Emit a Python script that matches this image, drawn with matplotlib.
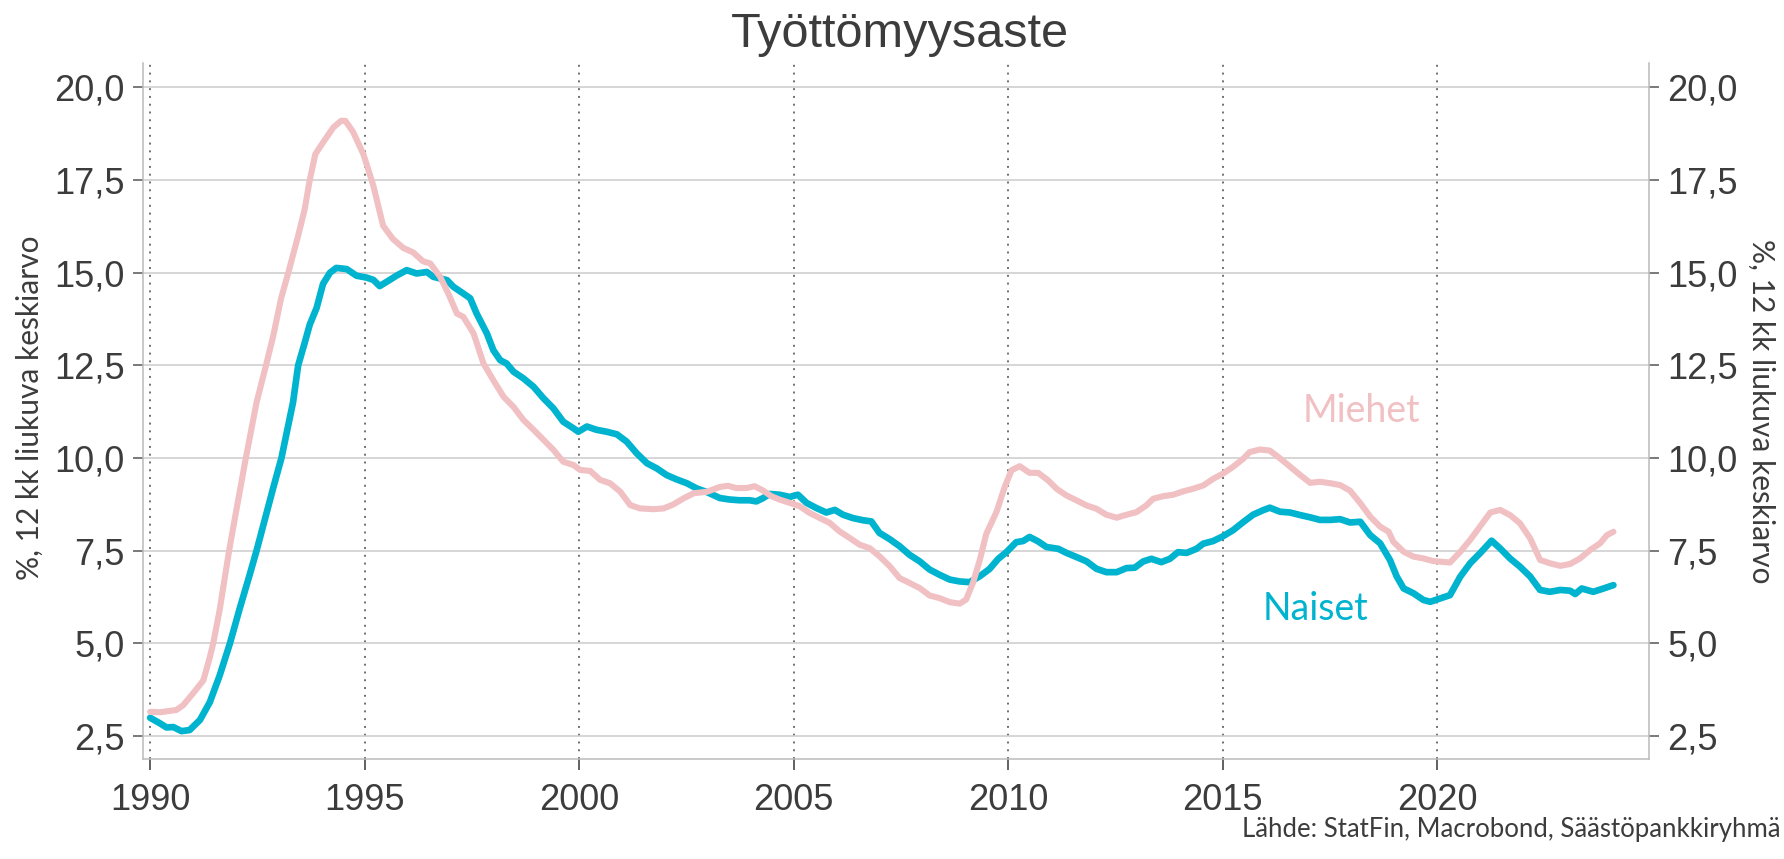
import matplotlib
matplotlib.use("Agg")
import matplotlib.pyplot as plt
from matplotlib.ticker import FixedLocator, FuncFormatter

# ---------------- data ----------------
title = "Työttömyysaste"
ylabel = "%, 12 kk liukuva keskiarvo"
source = "Lähde: StatFin, Macrobond, Säästöpankkiryhmä"
label_miehet = "Miehet"
label_naiset = "Naiset"

miehet_years = [
    1990.0, 1990.23, 1990.61, 1990.77, 1991.0, 1991.24, 1991.39, 1991.47, 1991.62, 1991.84,
    1992.01, 1992.23, 1992.48, 1992.7, 1992.87, 1993.05, 1993.22, 1993.45, 1993.6, 1993.72,
    1993.85, 1994.02, 1994.27, 1994.45, 1994.55, 1994.73, 1994.97, 1995.2, 1995.43, 1995.66,
    1995.9, 1996.13, 1996.36, 1996.53, 1996.76, 1996.95, 1997.15, 1997.3, 1997.54, 1997.77,
    1998.0, 1998.24, 1998.47, 1998.7, 1998.94, 1999.17, 1999.4, 1999.63, 1999.87, 2000.02,
    2000.26, 2000.49, 2000.72, 2000.96, 2001.19, 2001.42, 2001.73, 2001.97, 2002.2, 2002.43,
    2002.67, 2002.98, 2003.28, 2003.47, 2003.66, 2003.9, 2004.09, 2004.29, 2004.48, 2004.67,
    2004.91, 2005.14, 2005.37, 2005.61, 2005.84, 2006.07, 2006.31, 2006.54, 2006.77, 2007.0,
    2007.24, 2007.47, 2007.7, 2007.94, 2008.17, 2008.4, 2008.64, 2008.87, 2009.02, 2009.18,
    2009.34, 2009.49, 2009.73, 2009.92, 2010.08, 2010.27, 2010.5, 2010.7, 2010.93, 2011.13,
    2011.36, 2011.59, 2011.83, 2012.06, 2012.29, 2012.53, 2012.76, 2012.99, 2013.22, 2013.38,
    2013.61, 2013.85, 2014.08, 2014.31, 2014.55, 2014.78, 2015.01, 2015.24, 2015.48, 2015.63,
    2015.87, 2016.1, 2016.34, 2016.57, 2016.81, 2017.04, 2017.27, 2017.51, 2017.74, 2017.97,
    2018.21, 2018.44, 2018.67, 2018.87, 2018.98, 2019.22, 2019.45, 2019.68, 2019.91, 2020.11,
    2020.3, 2020.54, 2020.77, 2021.0, 2021.24, 2021.47, 2021.7, 2021.93, 2022.17, 2022.4,
    2022.63, 2022.87, 2023.1, 2023.33, 2023.57, 2023.8, 2023.96, 2024.11,
]
miehet = [
    3.15, 3.14, 3.2, 3.33, 3.65, 4.0, 4.62, 5.0, 5.9, 7.5,
    8.6, 10.0, 11.5, 12.5, 13.3, 14.3, 15.0, 16.0, 16.7, 17.5,
    18.2, 18.5, 18.92, 19.1, 19.1, 18.8, 18.2, 17.36, 16.27, 15.91,
    15.67, 15.55, 15.31, 15.25, 14.89, 14.44, 13.9, 13.81, 13.36, 12.55,
    12.1, 11.65, 11.38, 11.03, 10.76, 10.49, 10.22, 9.9, 9.81, 9.68,
    9.65, 9.41, 9.32, 9.09, 8.73, 8.64, 8.62, 8.64, 8.75, 8.91,
    9.05, 9.09, 9.22, 9.25, 9.19, 9.19, 9.24, 9.12, 8.97, 8.88,
    8.79, 8.7, 8.52, 8.38, 8.25, 8.02, 7.84, 7.66, 7.57, 7.35,
    7.08, 6.76, 6.63, 6.49, 6.29, 6.22, 6.11, 6.07, 6.18, 6.63,
    7.25, 7.95, 8.55, 9.22, 9.67, 9.78, 9.6, 9.6, 9.4, 9.17,
    8.99, 8.86, 8.72, 8.63, 8.47, 8.39, 8.47, 8.54, 8.72, 8.9,
    8.97, 9.01, 9.1, 9.17, 9.26, 9.44, 9.58, 9.76, 9.98, 10.16,
    10.23, 10.2, 9.99, 9.77, 9.54, 9.33, 9.36, 9.32, 9.27, 9.12,
    8.78, 8.42, 8.15, 8.01, 7.74, 7.47, 7.34, 7.29, 7.22, 7.2,
    7.18, 7.47, 7.79, 8.15, 8.53, 8.6, 8.46, 8.24, 7.83, 7.25,
    7.16, 7.09, 7.14, 7.29, 7.52, 7.7, 7.92, 8.01,
]

naiset_years = [
    1990.0, 1990.23, 1990.38, 1990.54, 1990.73, 1990.92, 1991.16, 1991.39, 1991.62, 1991.86,
    1992.09, 1992.32, 1992.48, 1992.63, 1992.87, 1993.06, 1993.33, 1993.45, 1993.6, 1993.72,
    1993.88, 1994.03, 1994.19, 1994.34, 1994.58, 1994.81, 1995.04, 1995.2, 1995.35, 1995.59,
    1995.74, 1995.98, 1996.21, 1996.45, 1996.6, 1996.92, 1997.07, 1997.3, 1997.46, 1997.61,
    1997.85, 1998.0, 1998.16, 1998.31, 1998.47, 1998.7, 1998.94, 1999.17, 1999.4, 1999.63,
    1999.87, 1999.98, 2000.18, 2000.41, 2000.64, 2000.88, 2001.11, 2001.34, 2001.58, 2001.81,
    2002.04, 2002.28, 2002.51, 2002.74, 2002.98, 2003.28, 2003.51, 2003.74, 2003.97, 2004.13,
    2004.29, 2004.44, 2004.67, 2004.91, 2005.1, 2005.3, 2005.53, 2005.76, 2005.96, 2006.15,
    2006.38, 2006.62, 2006.81, 2007.0, 2007.24, 2007.47, 2007.7, 2007.94, 2008.17, 2008.4,
    2008.64, 2008.87, 2009.1, 2009.34, 2009.57, 2009.77, 2009.96, 2010.19, 2010.35, 2010.5,
    2010.7, 2010.89, 2011.17, 2011.36, 2011.59, 2011.83, 2012.06, 2012.29, 2012.53, 2012.76,
    2012.95, 2013.15, 2013.34, 2013.57, 2013.77, 2013.96, 2014.16, 2014.39, 2014.55, 2014.78,
    2015.01, 2015.24, 2015.48, 2015.71, 2015.94, 2016.1, 2016.34, 2016.57, 2016.81, 2017.04,
    2017.27, 2017.51, 2017.74, 2017.97, 2018.21, 2018.44, 2018.67, 2018.9, 2019.06, 2019.22,
    2019.45, 2019.68, 2019.84, 2020.07, 2020.3, 2020.54, 2020.77, 2021.0, 2021.27, 2021.47,
    2021.7, 2021.93, 2022.17, 2022.4, 2022.63, 2022.87, 2023.1, 2023.22, 2023.37, 2023.64,
    2023.88, 2024.11,
]
naiset = [
    2.99, 2.84, 2.73, 2.74, 2.63, 2.66, 2.93, 3.41, 4.13, 5.0,
    5.95, 6.85, 7.5, 8.15, 9.2, 10.0, 11.5, 12.5, 13.1, 13.6,
    14.05, 14.7, 15.0, 15.13, 15.1, 14.92, 14.87, 14.81, 14.64, 14.81,
    14.92, 15.07, 14.98, 15.02, 14.89, 14.8, 14.62, 14.44, 14.31, 13.9,
    13.36, 12.91, 12.64, 12.55, 12.33, 12.15, 11.92, 11.61, 11.34, 10.98,
    10.8, 10.71, 10.85, 10.76, 10.71, 10.64, 10.44, 10.13, 9.86, 9.72,
    9.54, 9.42, 9.32, 9.18, 9.08, 8.92, 8.88, 8.86, 8.86, 8.83,
    8.92, 9.03, 9.01, 8.95, 9.01, 8.79, 8.65, 8.53, 8.6, 8.47,
    8.38, 8.32, 8.29, 7.98, 7.81, 7.62, 7.39, 7.21, 6.99, 6.85,
    6.72, 6.67, 6.65, 6.81, 7.01, 7.28, 7.46, 7.73, 7.76, 7.87,
    7.75, 7.6, 7.55, 7.44, 7.33, 7.21, 7.01, 6.92, 6.92, 7.03,
    7.04, 7.21, 7.28, 7.19, 7.28, 7.46, 7.44, 7.55, 7.69, 7.76,
    7.89, 8.05, 8.27, 8.47, 8.59, 8.66, 8.55, 8.53, 8.46, 8.4,
    8.33, 8.33, 8.35, 8.26, 8.28, 7.92, 7.7, 7.25, 6.8, 6.48,
    6.35, 6.17, 6.12, 6.21, 6.3, 6.8, 7.16, 7.43, 7.77, 7.56,
    7.29, 7.07, 6.8, 6.44, 6.39, 6.44, 6.42, 6.33, 6.48, 6.39,
    6.48, 6.57,
]

y_ticks = [2.5, 5.0, 7.5, 10.0, 12.5, 15.0, 17.5, 20.0]
x_ticks = [1990, 1995, 2000, 2005, 2010, 2015, 2020]

# ---------------- style ----------------
W, H = 1784, 859
TXT = "#3c3c3c"
C_MIEHET = "#f0c0c3"
C_NAISET = "#00b3cf"
NUM_FONT = ["Liberation Sans", "DejaVu Sans"]
HUM_FONT = ["Lato", "DejaVu Sans"]

fig = plt.figure(figsize=(W / 100, H / 100), dpi=100)
fig.patch.set_facecolor("white")
ax = fig.add_axes([143.3 / W, 1 - 759.3 / H, (1648.6 - 143.3) / W, (759.3 - 63) / H])

ax.plot(naiset_years, naiset, color=C_NAISET, lw=4.8, solid_joinstyle="round",
        solid_capstyle="round", zorder=3)
ax.plot(miehet_years, miehet, color=C_MIEHET, lw=4.4, solid_joinstyle="round",
        solid_capstyle="round", zorder=4)

ax.set_xlim(1989.84, 2024.93)
ax.set_ylim(1.87, 20.66)

ax.yaxis.set_major_locator(FixedLocator(y_ticks))
ax.xaxis.set_major_locator(FixedLocator(x_ticks))
ax.yaxis.set_major_formatter(FuncFormatter(lambda v, p: f"{v:.1f}".replace(".", ",")))
ax.xaxis.set_major_formatter(FuncFormatter(lambda v, p: f"{int(v)}"))

ax.grid(axis="y", color="#cccccc", lw=1.1, ls="-", zorder=0)
ax.grid(axis="x", color="#707070", lw=1.4, ls=(0, (1, 3)), zorder=0)
ax.set_axisbelow(True)

for s in ["left", "right", "bottom"]:
    ax.spines[s].set_color("#bbbbbb")
    ax.spines[s].set_linewidth(1.1)
ax.spines["top"].set_visible(False)

ax.tick_params(axis="y", which="major", left=True, right=True, labelleft=True,
               labelright=True, length=7.5, width=1.1, color="#555555", pad=6,
               labelsize=26, labelcolor=TXT)
ax.tick_params(axis="x", which="major", bottom=True, length=8, width=1.3,
               color="#555555", pad=9, labelsize=26, labelcolor=TXT)
for lab in ax.get_xticklabels() + ax.get_yticklabels():
    lab.set_family(NUM_FONT)
for lab in ax.yaxis.get_ticklabels(which="major"):
    lab.set_family(NUM_FONT)

# series labels
ax.text(2018.24, 10.97, label_miehet, color=C_MIEHET, fontsize=27, family=HUM_FONT,
        ha="center", va="baseline")
ax.text(2017.17, 5.63, label_naiset, color=C_NAISET, fontsize=27, family=HUM_FONT,
        ha="center", va="baseline")

# title, axis labels, source
fig.text(900 / W, 1 - 47 / H, title, fontsize=35, color=TXT, family=NUM_FONT,
         ha="center", va="baseline")
fig.text(30 / W, 1 - 408 / H, ylabel, rotation=90, fontsize=21.5, color=TXT,
         family=HUM_FONT, ha="center", va="center")
fig.text(1761 / W, 1 - 411 / H, ylabel, rotation=270, fontsize=21.5, color=TXT,
         family=HUM_FONT, ha="center", va="center")
fig.text(1780 / W, 1 - 837 / H, source, fontsize=18.5, color=TXT, family=HUM_FONT,
         ha="right", va="baseline")

fig.savefig("out.png", dpi=100, facecolor="white")
